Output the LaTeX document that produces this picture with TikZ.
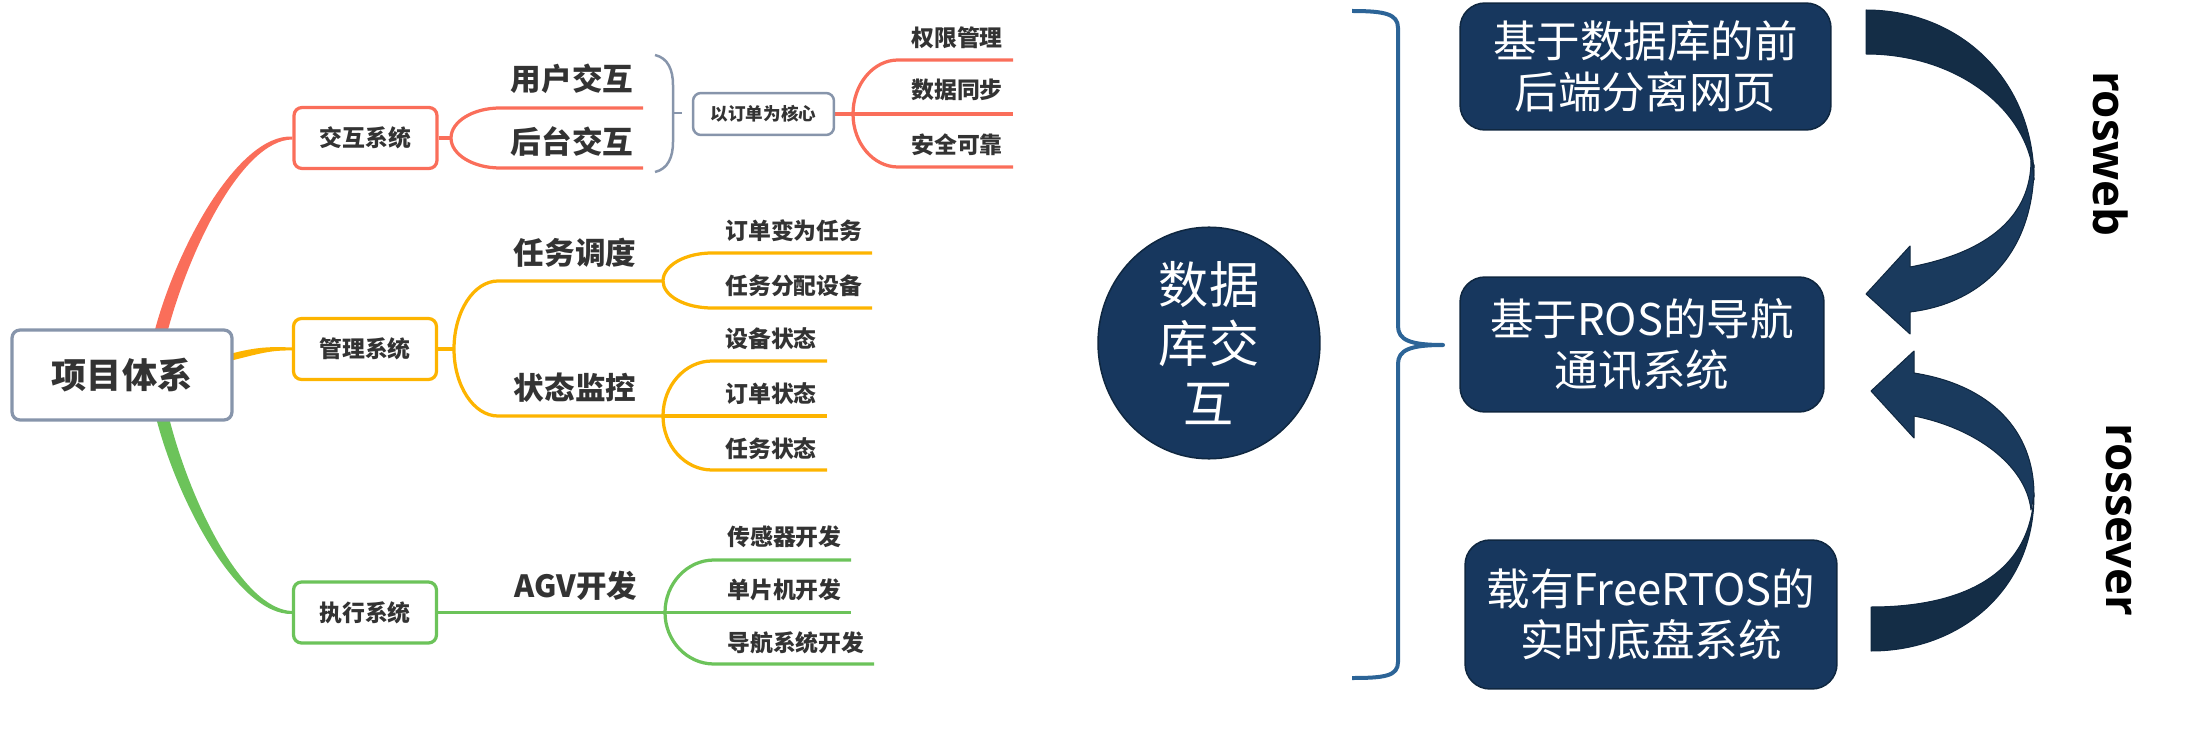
\documentclass[tikz,border=0pt]{standalone}
\usepackage{fontspec}
\usepackage{xcolor}
\usetikzlibrary{shapes.geometric,calc,backgrounds}

\newfontfamily\hei{Noto Sans CJK SC}
\newfontfamily\latinsans{Open Sans}

% 分支：从分叉点#2弯到#3，再水平到#4
\newcommand{\branchline}[4]{%
  \draw[#1] (#2) .. controls ($(#2)!0.55!(#2|-#3)$) and ($(#3)!0.55!(#2|-#3)$) .. (#3) -- (#4);}

\begin{document}
\begin{tikzpicture}[x=0.02cm, y=-0.02cm,
  root/.style={draw=mmGrey, fill=white, line width=0.065cm, rounded corners=0.16cm,
    minimum width=4.4cm, minimum height=1.8cm, text=mmText,
    font=\hei\bfseries\fontsize{20}{24}\selectfont},
  sysbox/.style={fill=white, line width=0.065cm, rounded corners=0.16cm,
    minimum width=2.86cm, minimum height=1.22cm, text=mmText,
    font=\hei\bfseries\fontsize{13}{16}\selectfont},
  topic/.style={inner sep=0pt, text=mmText, font=\hei\bfseries\fontsize{17.4}{20}\selectfont},
  leaf/.style={inner sep=0pt, anchor=west, text=mmText, font=\hei\bfseries\fontsize{13}{16}\selectfont},
  mmline/.style={line width=0.065cm},
  navybox/.style={fill=navy, draw=navyEdge, line width=0.03cm, rounded corners=0.5cm,
    text=white, align=center, font=\hei\fontsize{24.8}{29}\selectfont},
  sidelabel/.style={rotate=-90, text=black, font=\latinsans\bfseries\fontsize{26}{30}\selectfont}
]

% 颜色
\definecolor{mmRed}{HTML}{FA6E5A}
\definecolor{mmYellow}{HTML}{FDB400}
\definecolor{mmGreen}{HTML}{6CC35A}
\definecolor{mmGrey}{HTML}{8795AB}
\definecolor{mmText}{HTML}{333333}
\definecolor{navy}{HTML}{17375E}
\definecolor{navyEdge}{HTML}{0F2740}
\definecolor{arrDark}{HTML}{142D46}
\definecolor{arrLight}{HTML}{1A3A5D}
\definecolor{braceBlue}{HTML}{2C6497}

\useasboundingbox (0,0) rectangle (2187,733);

% 根节点
\node[root] (root) at (122,375) {项目体系};

% 一级分支
\node[sysbox, draw=mmRed] (jh) at (365.5,138) {交互系统};
\node[sysbox, draw=mmYellow] (gl) at (365,349) {管理系统};
\node[sysbox, draw=mmGreen] (zx) at (365,612.5) {执行系统};

% 交互系统
\node[topic] (yh) at (572,79) {用户交互};
\node[topic] (ht) at (572,142) {后台交互};
\node[draw=mmGrey, fill=white, line width=0.05cm, rounded corners=0.16cm,
  minimum width=2.82cm, minimum height=0.84cm, text=mmText,
  font=\hei\bfseries\fontsize{10}{12}\selectfont] (core) at (763.5,114) {以订单为核心};
\node[leaf] (qx) at (911,38) {权限管理};
\node[leaf] (sj) at (911,90) {数据同步};
\node[leaf] (aq) at (911,145) {安全可靠};

% 管理系统
\node[topic] (rw) at (575,253) {任务调度};
\node[topic] (zt) at (575,388) {状态监控};
\node[leaf] (ddrw) at (725,231) {订单变为任务};
\node[leaf] (rwfp) at (725,286) {任务分配设备};
\node[leaf] (sbzt) at (725,339) {设备状态};
\node[leaf] (ddzt) at (725,394) {订单状态};
\node[leaf] (rwzt) at (725,449) {任务状态};

% 执行系统
\node[topic] (agv) at (576,586) {AGV开发};
\node[leaf] (cgq) at (727,537) {传感器开发};
\node[leaf] (dpj) at (727,590) {单片机开发};
\node[leaf] (dh) at (727,643) {导航系统开发};

% 分叉点和线端
\coordinate (jhJ) at (451,138);
\coordinate (yhS) at (500,108); \coordinate (yhE) at (643,108);
\coordinate (htS) at (500,168); \coordinate (htE) at (643,168);
\coordinate (coreJ) at (853,114);
\coordinate (qxS) at (898,60);  \coordinate (qxE) at (1013,60);
\coordinate (sjE) at (1013,114);
\coordinate (aqS) at (898,167); \coordinate (aqE) at (1013,167);
\coordinate (glJ) at (454,349);
\coordinate (rwS) at (498,281); \coordinate (rwJ) at (663,281);
\coordinate (ztS) at (498,416); \coordinate (ztJ) at (663,416);
\coordinate (ddrwS) at (712,253); \coordinate (ddrwE) at (872,253);
\coordinate (rwfpS) at (712,308); \coordinate (rwfpE) at (872,308);
\coordinate (sbztS) at (712,361); \coordinate (sbztE) at (827,361);
\coordinate (ddztE) at (827,416);
\coordinate (rwztS) at (712,470); \coordinate (rwztE) at (827,470);
\coordinate (zxJ) at (665,612.5);
\coordinate (dpjE) at (851,612.5);
\coordinate (cgqS) at (714,560); \coordinate (cgqE) at (851,560);
\coordinate (dhS) at (714,664);  \coordinate (dhE) at (874,664);

\begin{scope}[on background layer]
% 根到一级（渐细）
\fill[mmRed] ($(root.north)+(32,5)$) .. controls (176,248) and (238,134) .. ($(jh.west)+(0,-1.5)$)
  -- ($(jh.west)+(0,1.5)$) .. controls (242,140) and (189,250) .. ($(root.north)+(45,5)$) -- cycle;
\fill[mmYellow] ($(root.east)+(-4,-21)$) .. controls (256,347) and (270,346.5) .. ($(gl.west)+(0,-1.5)$)
  -- ($(gl.west)+(0,1.5)$) .. controls (270,350) and (258,354) .. ($(root.east)+(-4,-14)$) -- cycle;
\fill[mmGreen] ($(root.south)+(34,-4)$) .. controls (178,503) and (238,615) .. ($(zx.west)+(0,1.5)$)
  -- ($(zx.west)+(0,-1.5)$) .. controls (242,609) and (190,501) .. ($(root.south)+(47,-4)$) -- cycle;

% 交互系统
\draw[mmline, mmRed] (jh.east) -- (jhJ);
\branchline{mmline, mmRed}{jhJ}{yhS}{yhE}
\branchline{mmline, mmRed}{jhJ}{htS}{htE}
\draw[mmline, mmRed] (core.east) -- (coreJ) -- (sjE);
\branchline{mmline, mmRed}{coreJ}{qxS}{qxE}
\branchline{mmline, mmRed}{coreJ}{aqS}{aqE}

% 概要括号
\draw[mmGrey, line width=0.05cm] (655,55) .. controls (668,58) and (673,70) .. (673,85)
  -- (673,142) .. controls (673,157) and (668,169) .. (655,172);
\draw[mmGrey, line width=0.05cm] (673,113) -- (682,113);

% 管理系统
\draw[mmline, mmYellow] (gl.east) -- (glJ);
\branchline{mmline, mmYellow}{glJ}{rwS}{rwJ}
\branchline{mmline, mmYellow}{glJ}{ztS}{ztJ}
\branchline{mmline, mmYellow}{rwJ}{ddrwS}{ddrwE}
\branchline{mmline, mmYellow}{rwJ}{rwfpS}{rwfpE}
\branchline{mmline, mmYellow}{ztJ}{sbztS}{sbztE}
\draw[mmline, mmYellow] (ztJ) -- (ddztE);
\branchline{mmline, mmYellow}{ztJ}{rwztS}{rwztE}

% 执行系统
\draw[mmline, mmGreen] (zx.east) -- (zxJ) -- (dpjE);
\branchline{mmline, mmGreen}{zxJ}{cgqS}{cgqE}
\branchline{mmline, mmGreen}{zxJ}{dhS}{dhE}
\end{scope}

% 右侧
\node[ellipse, fill=navy, draw=navyEdge, line width=0.03cm, minimum width=4.44cm,
  minimum height=4.32cm, inner sep=0pt, text=white, align=center,
  font=\hei\fontsize{28.5}{34}\selectfont] (sjk) at (1209,343) {数据\\库交\\互};

% 大括号
\draw[braceBlue, line width=0.08cm, line join=round] (1352,11) .. controls (1385,11) and (1398,14) .. (1398,28)
  -- (1398,326) .. controls (1398,340) and (1410,345) .. (1443,345)
  .. controls (1410,345) and (1398,350) .. (1398,364)
  -- (1398,662) .. controls (1398,676) and (1385,678) .. (1352,678);

\node[navybox, minimum width=7.42cm, minimum height=2.54cm] (web) at (1645.5,66.5) {基于数据库的前\\后端分离网页};
\node[navybox, minimum width=7.28cm, minimum height=2.7cm] (ros) at (1642,344.5) {基于ROS的导航\\通讯系统};
\node[navybox, minimum width=7.44cm, minimum height=2.98cm] (rtos) at (1651,614.5) {载有FreeRTOS的\\实时底盘系统};

% 弯箭头 rosweb
\path[fill=arrLight, draw=navyEdge, line width=0.02cm, line join=round]
  (2034,165) .. controls (2034,250) and (1985,303) .. (1910,312)
  -- (1910,334) -- (1866,294) -- (1910,246) -- (1910,267)
  .. controls (1990,252) and (2031,215) .. (2031,160) -- cycle;
\path[fill=arrDark, draw=navyEdge, line width=0.02cm, line join=round]
  (1866,10) .. controls (1960,10) and (2034,80) .. (2034,180)
  .. controls (2030,110) and (1957,54) .. (1866,54) -- cycle;

% 弯箭头 rossever
\path[fill=arrLight, draw=navyEdge, line width=0.02cm, line join=round]
  (2034,495) .. controls (2034,430) and (1990,385) .. (1914,373)
  -- (1914,351) -- (1871,391) -- (1914,438) -- (1914,416)
  .. controls (1975,428) and (2026,465) .. (2031,510) -- cycle;
\path[fill=arrDark, draw=navyEdge, line width=0.02cm, line join=round]
  (2034,495) .. controls (2034,590) and (1960,651) .. (1871,651)
  -- (1871,607) .. controls (1962,607) and (2030,575) .. (2034,495) -- cycle;

\node[sidelabel] (rosweb) at (2111,154) {rosweb};
\node[sidelabel] (rossever) at (2119,520) {rossever};

\end{tikzpicture}
\end{document}
